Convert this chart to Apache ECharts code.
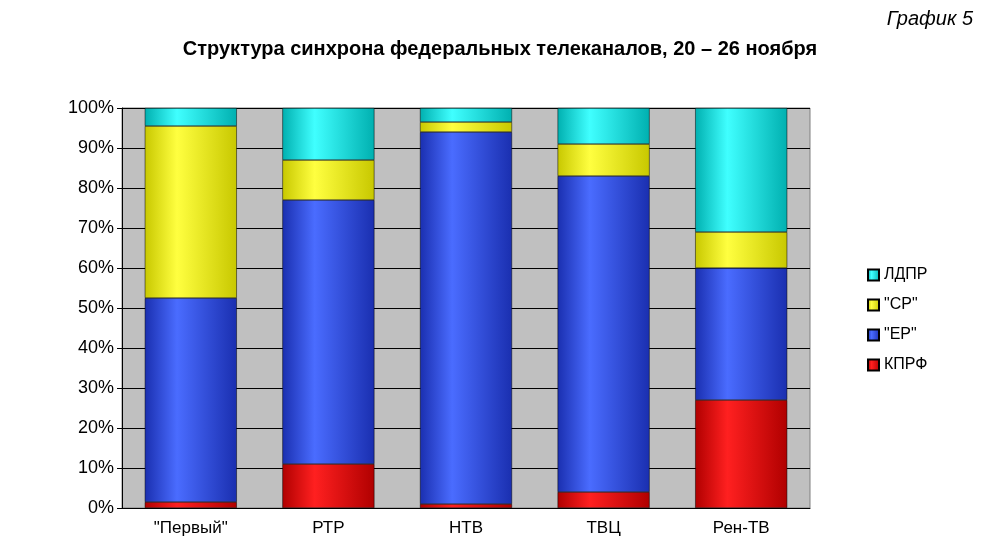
<!DOCTYPE html>
<html><head><meta charset="utf-8">
<script src="https://cdn.jsdelivr.net/npm/echarts@6/dist/echarts.min.js"></script>
<style>html,body{margin:0;background:#fff}#c{width:1000px;height:560px}</style>
</head><body><div id="c"></div>
<script>
const categories = ['"Первый"', 'РТР', 'НТВ', 'ТВЦ', 'Рен-ТВ'];
const kprf = [1.5, 11, 1, 4, 27];
const er = [51, 66, 93, 79, 33];
const sr = [43, 10, 2.5, 8, 9];
const ldpr = [4.5, 13, 3.5, 9, 31];
const yTicks = [0, 10, 20, 30, 40, 50, 60, 70, 80, 90, 100];

function grad(c1, c2) {
  return new echarts.graphic.LinearGradient(0, 0, 1, 0, [
    {offset: 0, color: c2}, {offset: 0.35, color: c1}, {offset: 1, color: c2}]);
}
const chart = echarts.init(document.getElementById('c'));
const mk = (name, data, c1, c2) => ({
  name, type: 'bar', stack: 's', data, barWidth: 92,
  itemStyle: {color: grad(c1, c2), borderColor: '#000', borderWidth: 0.5}
});
chart.setOption({
  animation: false,
  title: [
    {text: 'Структура синхрона федеральных телеканалов, 20 – 26 ноября', left: 'center', top: 34,
     textStyle: {fontFamily: 'Liberation Sans', fontSize: 20, fontWeight: 'bold', color: '#000'}},
    {text: 'График 5', right: 22, top: 4,
     textStyle: {fontFamily: 'Liberation Sans', fontSize: 20, fontStyle: 'italic', fontWeight: 'normal', color: '#000'}}
  ],
  legend: {orient: 'vertical', left: 862, top: 262, itemWidth: 11, itemHeight: 11, itemGap: 14, icon: 'rect',
    data: ['ЛДПР', '"СР"', '"ЕР"', 'КПРФ'],
    textStyle: {fontFamily: 'Liberation Sans', fontSize: 16, color: '#000'}},
  grid: {left: 122, right: 190, top: 108, bottom: 52, backgroundColor: '#c0c0c0', show: true, borderColor: '#808080'},
  xAxis: {type: 'category', data: categories,
    axisLine: {lineStyle: {color: '#000'}}, axisTick: {show: false},
    axisLabel: {fontFamily: 'Liberation Sans', fontSize: 17, color: '#000', margin: 12}},
  yAxis: {type: 'value', min: 0, max: 100, interval: 10,
    axisLine: {show: true, lineStyle: {color: '#000'}}, axisTick: {show: true},
    axisLabel: {formatter: v => yTicks.includes(v) ? v + '%' : '', fontFamily: 'Liberation Sans', fontSize: 18, color: '#000'},
    splitLine: {lineStyle: {color: '#000'}}},
  series: [
    mk('КПРФ', kprf, '#ff2020', '#b00000'),
    mk('"ЕР"', er, '#4a6cff', '#1a2fb0'),
    mk('"СР"', sr, '#ffff40', '#c8c800'),
    mk('ЛДПР', ldpr, '#40ffff', '#00b0b0')
  ],
  color: ['#ff0000', '#3355ee', '#ffff00', '#00e0e0']
});
</script></body></html>
